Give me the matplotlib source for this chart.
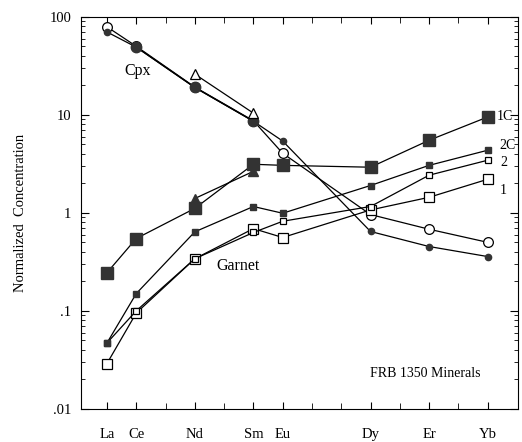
import matplotlib
matplotlib.use('Agg')
from matplotlib import pyplot as plt
from matplotlib.ticker import LogLocator, NullFormatter, FixedLocator
import numpy as np

plt.rcParams['font.family'] = ['Liberation Serif', 'DejaVu Serif']

# REE order used for the x axis
ree = ['La', 'Ce', 'Pr', 'Nd', 'Pm', 'Sm', 'Eu', 'Gd', 'Tb', 'Dy', 'Ho', 'Er', 'Tm', 'Yb']
shown = ['La', 'Ce', 'Nd', 'Sm', 'Eu', 'Dy', 'Er', 'Yb']

# Cpx
cpx_open_el = ['La', 'Ce', 'Nd', 'Sm', 'Eu', 'Dy', 'Er', 'Yb']
cpx_open = [79, 50, 19.2, 8.7, 4.05, 0.96, 0.68, 0.50]
cpx_small_el = ['La', 'Ce', 'Nd', 'Sm', 'Eu', 'Dy', 'Er', 'Yb']
cpx_small = [70, 49, 19.0, 8.6, 5.4, 0.645, 0.453, 0.358]
cpx_big_el = ['Ce', 'Nd', 'Sm']
cpx_big = [49, 19.0, 8.6]
cpx_tri_el = ['Nd', 'Sm']
cpx_tri = [26, 10.4]

# Garnet
gt_1c_el = ['La', 'Ce', 'Nd', 'Sm', 'Eu', 'Dy', 'Er', 'Yb']
gt_1c = [0.245, 0.547, 1.11, 3.13, 3.05, 2.92, 5.5, 9.5]
gt_2c_el = ['La', 'Ce', 'Nd', 'Sm', 'Eu', 'Dy', 'Er', 'Yb']
gt_2c = [0.047, 0.150, 0.64, 1.16, 0.99, 1.9, 3.05, 4.35]
gt_2_el = ['La', 'Ce', 'Nd', 'Sm', 'Eu', 'Dy', 'Er', 'Yb']
gt_2 = [0.047, 0.10, 0.34, 0.63, 0.82, 1.16, 2.42, 3.44]
gt_1_el = ['La', 'Ce', 'Nd', 'Sm', 'Eu', 'Dy', 'Er', 'Yb']
gt_1 = [0.029, 0.095, 0.34, 0.69, 0.56, 1.07, 1.44, 2.2]
gt_tri_el = ['Nd', 'Sm']
gt_tri = [1.40, 2.65]

dark = '#333333'


def xs(els):
    return [ree.index(e) for e in els]


fig = plt.figure(figsize=(5.22, 4.42), dpi=100)
ax = fig.add_axes([0.155, 0.075, 0.837, 0.887])

line = dict(color='black', lw=0.9)
ax.plot(xs(cpx_open_el), cpx_open, marker='o', ms=7, mfc='white', mec='black', mew=0.9, **line)
ax.plot(xs(cpx_small_el), cpx_small, marker='o', ms=4.5, mfc=dark, mec=dark, **line)
ax.plot(xs(cpx_big_el), cpx_big, marker='o', ms=7.5, mfc=dark, mec=dark, **line)
ax.plot(xs(cpx_tri_el), cpx_tri, marker='^', ms=7, mfc='white', mec='black', mew=0.9, **line)

ax.plot(xs(gt_1_el), gt_1, marker='s', ms=7, mfc='white', mec='black', mew=0.9, **line)
ax.plot(xs(gt_2_el), gt_2, marker='s', ms=4.5, mfc='white', mec='black', mew=0.9, **line)
ax.plot(xs(gt_2c_el), gt_2c, marker='s', ms=4.5, mfc=dark, mec=dark, **line)
ax.plot(xs(gt_1c_el), gt_1c, marker='s', ms=8, mfc=dark, mec=dark, **line)
ax.plot(xs(gt_tri_el), gt_tri, marker='^', ms=7, mfc=dark, mec=dark, **line)

ax.set_yscale('log')
ax.set_ylim(0.01, 100)
ax.set_xlim(-0.89, 14.03)

ax.yaxis.set_major_locator(FixedLocator([0.01, 0.1, 1, 10, 100]))
ax.set_yticklabels(['.01', '.1', '1', '10', '100'], fontsize=10.5)
ax.yaxis.set_minor_locator(LogLocator(base=10, subs=np.arange(2, 10)))
ax.yaxis.set_minor_formatter(NullFormatter())

ax.set_xticks(xs(shown))
ax.set_xticklabels(shown, fontsize=10.5)
ax.set_xticks(range(len(ree)), minor=True)

ax.tick_params(axis='both', which='both', direction='in', top=True, right=True)
ax.tick_params(axis='x', which='major', length=5, pad=14)
ax.tick_params(axis='x', which='minor', length=4)
ax.tick_params(axis='y', which='major', length=6, pad=7)
ax.tick_params(axis='y', which='minor', length=3)

ax.set_ylabel('Normalized  Concentration', fontsize=10.5, labelpad=16)

ax.text(0.61, 28, 'Cpx', fontsize=11.5, va='center')
ax.text(3.72, 0.29, 'Garnet', fontsize=11.5, va='center')
ax.text(8.98, 0.0227, 'FRB 1350 Minerals', fontsize=10, va='center')
ax.text(13.3, 9.6, '1C', fontsize=10, va='center')
ax.text(13.4, 4.9, '2C', fontsize=10, va='center')
ax.text(13.45, 3.3, '2', fontsize=10, va='center')
ax.text(13.4, 1.7, '1', fontsize=10, va='center')

fig.savefig('out.png', dpi=100)
